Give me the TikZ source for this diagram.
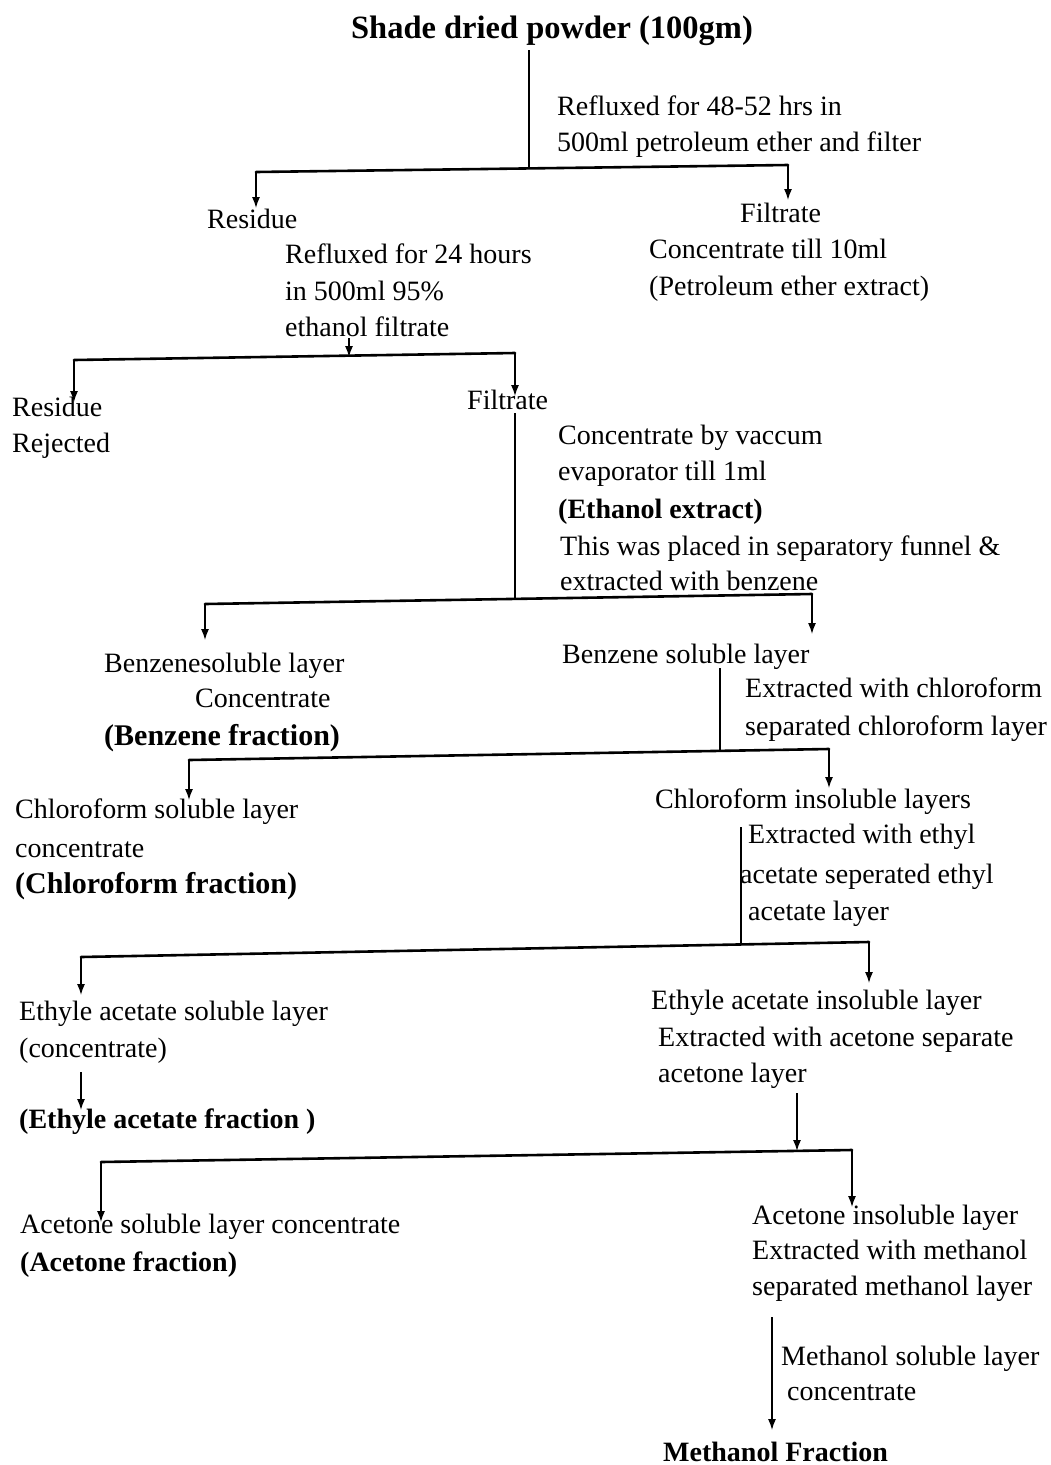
\documentclass[tikz,border=0pt]{standalone}
\usepackage{fontspec}
\setmainfont{Liberation Serif}
\usetikzlibrary{arrows.meta}
\tikzset{
  txt/.style={anchor=base west, inner sep=0pt, font=\fontsize{28}{34}\selectfont},
  btxt/.style={anchor=base west, inner sep=0pt, font=\fontsize{30}{36}\selectfont\bfseries},
  ttl/.style={anchor=base, inner sep=0pt, font=\fontsize{32.5}{38}\selectfont\bfseries},
  stem/.style={line width=1.4pt},
  bar/.style={line width=2.6pt, line cap=round},
  arr/.style={line width=1.4pt, -{Latex[length=11pt,width=8pt]}}
}
\begin{document}
\begin{tikzpicture}[x=1pt,y=-1pt]
\useasboundingbox (0,0) rectangle (1051,1465);
\fill[white] (0,0) rectangle (1051,1465);

% ---- text ----
\node[ttl] (src) at (552,38) {Shade dried powder (100gm)};
\node[txt] (r1a) at (557,115) {Refluxed for 48-52 hrs in};
\node[txt] (r1b) at (557,151) {500ml petroleum ether and filter};
\node[txt] (res1) at (207,228) {Residue};
\node[txt] (fil1) at (740,222) {Filtrate};
\node[txt] (r2a) at (285,263) {Refluxed for 24 hours};
\node[txt] (r2b) at (285,300) {in 500ml 95\%};
\node[txt] (r2c) at (285,336) {ethanol filtrate};
\node[txt] (pe1) at (649,258) {Concentrate till 10ml};
\node[txt] (pe2) at (649,295) {(Petroleum ether extract)};
\node[txt] (res2a) at (12,416) {Residue};
\node[txt] (res2b) at (12,452) {Rejected};
\node[txt] (fil2) at (467,409) {Filtrate};
\node[txt] (e1) at (558,444) {Concentrate by vaccum};
\node[txt] (e2) at (558,480) {evaporator till 1ml};
\node[txt, font=\fontsize{28}{34}\selectfont\bfseries] (e3) at (558,518) {(Ethanol extract)};
\node[txt] (e4) at (560,555) {This was placed in separatory funnel \&};
\node[txt] (e5) at (560,590) {extracted with benzene};
\node[txt] (bz1) at (104,672) {Benzenesoluble layer};
\node[txt] (bz2) at (195,707) {Concentrate};
\node[btxt] (bz3) at (104,745) {(Benzene fraction)};
\node[txt] (bs) at (562,663) {Benzene soluble layer};
\node[txt] (c1) at (745,697) {Extracted with chloroform};
\node[txt] (c2) at (745,735) {separated chloroform layer};
\node[txt] (cs1) at (15,818) {Chloroform soluble layer};
\node[txt] (cs2) at (15,857) {concentrate};
\node[btxt] (cs3) at (15,893) {(Chloroform fraction)};
\node[txt] (ci) at (655,808) {Chloroform insoluble layers};
\node[txt] (x1) at (748,843) {Extracted with ethyl};
\node[txt] (x2) at (740,883) {acetate seperated ethyl};
\node[txt] (x3) at (748,920) {acetate layer};
\node[txt] (ea1) at (19,1020) {Ethyle acetate soluble layer};
\node[txt] (ea2) at (19,1057) {(concentrate)};
\node[btxt, font=\fontsize{28}{34}\selectfont\bfseries] (ea3) at (19,1128) {(Ethyle acetate fraction )};
\node[txt] (ei1) at (651,1009) {Ethyle acetate insoluble layer};
\node[txt] (ei2) at (658,1046) {Extracted with acetone separate};
\node[txt] (ei3) at (658,1082) {acetone layer};
\node[txt] (ac1) at (20,1233) {Acetone soluble layer concentrate};
\node[btxt, font=\fontsize{28}{34}\selectfont\bfseries] (ac2) at (20,1271) {(Acetone fraction)};
\node[txt] (ai1) at (752,1224) {Acetone insoluble layer};
\node[txt] (ai2) at (752,1259) {Extracted with methanol};
\node[txt] (ai3) at (752,1295) {separated methanol layer};
\node[txt] (m1) at (781,1365) {Methanol soluble layer};
\node[txt] (m2) at (787,1400) {concentrate};
\node[btxt, font=\fontsize{28}{34}\selectfont\bfseries] (mf) at (663,1461) {Methanol Fraction};

% ---- branch points ----
\coordinate (s1a) at (529,50);   \coordinate (s1b) at (529,169);
\coordinate (b1l) at (256,172);  \coordinate (b1r) at (788,165);
\coordinate (t1l) at (256,208);  \coordinate (t1r) at (788,200);

\coordinate (s2a) at (349,338);  \coordinate (s2b) at (349,357);
\coordinate (b2l) at (74,360);   \coordinate (b2r) at (515,353);
\coordinate (t2l) at (74,402);   \coordinate (t2r) at (515,396);

\coordinate (s3a) at (515,413);  \coordinate (s3b) at (515,599);
\coordinate (b3l) at (205,604);  \coordinate (b3r) at (812,594);
\coordinate (t3l) at (205,640);  \coordinate (t3r) at (812,634);

\coordinate (s4a) at (720,668);  \coordinate (s4b) at (720,751);
\coordinate (b4l) at (189,760);  \coordinate (b4r) at (829,749);
\coordinate (t4l) at (189,800);  \coordinate (t4r) at (829,788);

\coordinate (s5a) at (741,827);  \coordinate (s5b) at (741,944);
\coordinate (b5l) at (81,957);   \coordinate (b5r) at (869,942);
\coordinate (t5l) at (81,995);   \coordinate (t5r) at (869,983);

\coordinate (s6a) at (81,1072);  \coordinate (s6b) at (81,1110);

\coordinate (s7a) at (797,1093); \coordinate (s7b) at (797,1151);
\coordinate (b7l) at (101,1162); \coordinate (b7r) at (852,1150);
\coordinate (t7l) at (101,1222); \coordinate (t7r) at (852,1207);

\coordinate (s8a) at (772,1317); \coordinate (s8b) at (772,1430);

% ---- connectors ----
\draw[stem] (s1a) -- (s1b);
\draw[bar] (b1l) -- (b1r);
\draw[arr] (b1l) -- (t1l);
\draw[arr] (b1r) -- (t1r);

\draw[arr] (s2a) -- (s2b);
\draw[bar] (b2l) -- (b2r);
\draw[arr] (b2l) -- (t2l);
\draw[arr] (b2r) -- (t2r);

\draw[stem] (s3a) -- (s3b);
\draw[bar] (b3l) -- (b3r);
\draw[arr] (b3l) -- (t3l);
\draw[arr] (b3r) -- (t3r);

\draw[stem] (s4a) -- (s4b);
\draw[bar] (b4l) -- (b4r);
\draw[arr] (b4l) -- (t4l);
\draw[arr] (b4r) -- (t4r);

\draw[stem] (s5a) -- (s5b);
\draw[bar] (b5l) -- (b5r);
\draw[arr] (b5l) -- (t5l);
\draw[arr] (b5r) -- (t5r);

\draw[arr] (s6a) -- (s6b);

\draw[arr] (s7a) -- (s7b);
\draw[bar] (b7l) -- (b7r);
\draw[arr] (b7l) -- (t7l);
\draw[arr] (b7r) -- (t7r);

\draw[arr] (s8a) -- (s8b);
\end{tikzpicture}
\end{document}
